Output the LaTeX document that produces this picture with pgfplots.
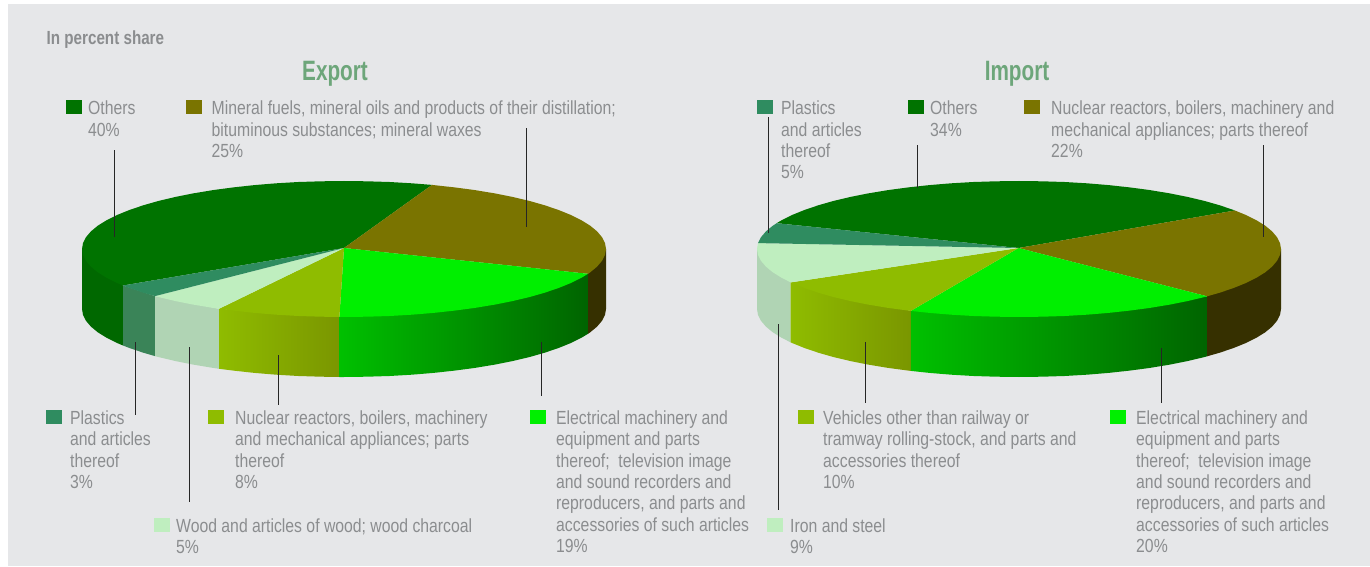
\documentclass[border=0pt]{standalone}
\usepackage{fontspec}
\setmainfont{Liberation Sans}[FakeStretch=0.83]
\newfontfamily\headfont{Liberation Sans}[FakeStretch=0.80]
\newfontfamily\titlefont{Liberation Sans}[FakeStretch=0.74]
\usepackage{pgfplots}
\pgfplotsset{compat=1.18}

\definecolor{bg}{HTML}{E6E7E9}
\definecolor{txt}{HTML}{8B8D8F}
\definecolor{ttl}{HTML}{6DA67A}
\definecolor{cOthers}{HTML}{007300}
\definecolor{cOthersS}{HTML}{006800}
\definecolor{cMineral}{HTML}{7A7400}
\definecolor{cMineralS}{HTML}{363000}
\definecolor{cElec}{HTML}{00EF00}
\definecolor{cElecL}{HTML}{00C000}
\definecolor{cElecR}{HTML}{006400}
\definecolor{cNuc}{HTML}{8FBC00}
\definecolor{cNucR}{HTML}{7A9600}
\definecolor{cWood}{HTML}{BFEEBF}
\definecolor{cWoodS}{HTML}{B0D4B4}
\definecolor{cPlast}{HTML}{2F8C60}
\definecolor{cPlastS}{HTML}{3A8458}

\pgfplotsset{
  page/.style={
    at={(0,0)}, anchor=south west, scale only axis,
    width=1370pt, height=566pt, axis lines=none,
  },
  pie/.style={page, ymin=-317, ymax=249},
}
\tikzset{
  seg/.style={draw=none, fill=#1},
  side/.style n args={2}{draw=none, left color=#1, right color=#2},
  lead/.style={black!85, line width=0.8pt},
  lab/.style={anchor=north west, inner sep=0pt, align=left, text=txt,
    font=\fontsize{19}{21.4}\selectfont},
}
\newcommand\fl{\rule{0pt}{14pt}}

\begin{document}
\begin{tikzpicture}

% background
\begin{axis}[page, xmin=0, xmax=1370, ymin=0, ymax=566, y dir=reverse]
\addplot[seg=white] coordinates {(0,0)(1370,0)(1370,566)(0,566)} --cycle;
\addplot[seg=bg] coordinates {(8,4)(1370,4)(1370,566)(8,566)} --cycle;
\end{axis}

% Export pie, centre at 344,249
\begin{axis}[pie, xmin=-344, xmax=1026]
% rim
\addplot[seg=cOthersS] coordinates {(-262,0)(-262,-60)(-261,-65.9)(-258,-71.8)(-253.1,-77.6)(-246.2,-83.3)(-237.5,-88.7)(-226.9,-94)(-221,-96.5)(-221,-36.5)} --cycle;
\addplot[seg=cPlastS] coordinates {(-221,-36.5)(-221,-96.5)(-214.6,-99)(-200.7,-103.7)(-189,-107.1)(-189,-47.1)} --cycle;
\addplot[seg=cWoodS] coordinates {(-189,-47.1)(-189,-107.1)(-185.3,-108.1)(-168.4,-112.1)(-150.3,-115.7)(-131,-118.9)(-125,-119.8)(-125,-59.8)} --cycle;
\addplot[side={cNuc}{cNucR}] coordinates {(-125,-59.8)(-125,-119.8)(-110.7,-121.6)(-89.6,-123.9)(-67.8,-125.7)(-45.5,-127)(-22.8,-127.7)(-4.6,-128)(-4.6,-68)} --cycle;
\addplot[side={cElecL}{cElecR}] coordinates {(-4.6,-68)(-4.6,-128)(0,-128)(22.8,-127.7)(45.5,-127)(67.8,-125.7)(89.6,-123.9)(110.7,-121.6)(131,-118.9)(150.3,-115.7)(168.4,-112.1)(185.3,-108.1)(200.7,-103.7)(214.6,-99)(226.9,-94)(237.5,-88.7)(244,-84.8)(244,-24.8)} --cycle;
\addplot[seg=cMineralS] coordinates {(244,-24.8)(244,-84.8)(246.2,-83.3)(253.1,-77.6)(258,-71.8)(261,-65.9)(262,-60)(262,0)} --cycle;
% top
\addplot[seg=cOthers] coordinates {(0,1)(88,64.1)(67.8,65.7)(45.5,67)(22.8,67.7)(0,68)(-22.8,67.7)(-45.5,67)(-67.8,65.7)(-89.6,63.9)(-110.7,61.6)(-131,58.9)(-150.3,55.7)(-168.4,52.1)(-185.3,48.1)(-200.7,43.7)(-214.6,39)(-226.9,34)(-237.5,28.7)(-246.2,23.3)(-253.1,17.6)(-258,11.8)(-261,5.9)(-262,0)(-261,-5.9)(-258,-11.8)(-253.1,-17.6)(-246.2,-23.3)(-237.5,-28.7)(-226.9,-34)(-221,-36.5)} --cycle;
\addplot[seg=cMineral] coordinates {(0,1)(244,-24.8)(246.2,-23.3)(253.1,-17.6)(258,-11.8)(261,-5.9)(262,0)(261,5.9)(258,11.8)(253.1,17.6)(246.2,23.3)(237.5,28.7)(226.9,34)(214.6,39)(200.7,43.7)(185.3,48.1)(168.4,52.1)(150.3,55.7)(131,58.9)(110.7,61.6)(89.6,63.9)(88,64.1)} --cycle;
\addplot[seg=cElec] coordinates {(0,1)(-4.6,-68)(0,-68)(22.8,-67.7)(45.5,-67)(67.8,-65.7)(89.6,-63.9)(110.7,-61.6)(131,-58.9)(150.3,-55.7)(168.4,-52.1)(185.3,-48.1)(200.7,-43.7)(214.6,-39)(226.9,-34)(237.5,-28.7)(244,-24.8)} --cycle;
\addplot[seg=cNuc] coordinates {(0,1)(-125,-59.8)(-110.7,-61.6)(-89.6,-63.9)(-67.8,-65.7)(-45.5,-67)(-22.8,-67.7)(-4.6,-68)} --cycle;
\addplot[seg=cWood] coordinates {(0,1)(-189,-47.1)(-185.3,-48.1)(-168.4,-52.1)(-150.3,-55.7)(-131,-58.9)(-125,-59.8)} --cycle;
\addplot[seg=cPlast] coordinates {(0,1)(-221,-36.5)(-214.6,-39)(-200.7,-43.7)(-189,-47.1)} --cycle;
\end{axis}

% Import pie, centre at 1019,249
\begin{axis}[pie, xmin=-1019, xmax=351]
% rim
\addplot[seg=cWoodS] coordinates {(-262,0)(-262,-60)(-261,-65.9)(-258,-71.8)(-253.1,-77.6)(-246.2,-83.3)(-237.5,-88.7)(-228.3,-93.4)(-228.3,-33.4)} --cycle;
\addplot[side={cNuc}{cNucR}] coordinates {(-228.3,-33.4)(-228.3,-93.4)(-226.9,-94)(-214.6,-99)(-200.7,-103.7)(-185.3,-108.1)(-168.4,-112.1)(-150.3,-115.7)(-131,-118.9)(-110.7,-121.6)(-108.2,-121.9)(-108.2,-61.9)} --cycle;
\addplot[side={cElecL}{cElecR}] coordinates {(-108.2,-61.9)(-108.2,-121.9)(-89.6,-123.9)(-67.8,-125.7)(-45.5,-127)(-22.8,-127.7)(0,-128)(22.8,-127.7)(45.5,-127)(67.8,-125.7)(89.6,-123.9)(110.7,-121.6)(131,-118.9)(150.3,-115.7)(168.4,-112.1)(185.3,-108.1)(188.1,-107.3)(188.1,-47.3)} --cycle;
\addplot[seg=cMineralS] coordinates {(188.1,-47.3)(188.1,-107.3)(200.7,-103.7)(214.6,-99)(226.9,-94)(237.5,-88.7)(246.2,-83.3)(253.1,-77.6)(258,-71.8)(261,-65.9)(262,-60)(262,0)} --cycle;
% top
\addplot[seg=cOthers] coordinates {(-0.5,1)(215.9,38.5)(214.6,39)(200.7,43.7)(185.3,48.1)(168.4,52.1)(150.3,55.7)(131,58.9)(110.7,61.6)(89.6,63.9)(67.8,65.7)(45.5,67)(22.8,67.7)(0,68)(-22.8,67.7)(-45.5,67)(-67.8,65.7)(-89.6,63.9)(-110.7,61.6)(-131,58.9)(-150.3,55.7)(-168.4,52.1)(-185.3,48.1)(-200.7,43.7)(-214.6,39)(-226.9,34)(-237.5,28.7)(-242.4,25.8)} --cycle;
\addplot[seg=cMineral] coordinates {(-0.5,1)(188.1,-47.3)(200.7,-43.7)(214.6,-39)(226.9,-34)(237.5,-28.7)(246.2,-23.3)(253.1,-17.6)(258,-11.8)(261,-5.9)(262,0)(261,5.9)(258,11.8)(253.1,17.6)(246.2,23.3)(237.5,28.7)(226.9,34)(215.9,38.5)} --cycle;
\addplot[seg=cElec] coordinates {(-0.5,1)(-108.2,-61.9)(-89.6,-63.9)(-67.8,-65.7)(-45.5,-67)(-22.8,-67.7)(0,-68)(22.8,-67.7)(45.5,-67)(67.8,-65.7)(89.6,-63.9)(110.7,-61.6)(131,-58.9)(150.3,-55.7)(168.4,-52.1)(185.3,-48.1)(188.1,-47.3)} --cycle;
\addplot[seg=cNuc] coordinates {(-0.5,1)(-228.3,-33.4)(-226.9,-34)(-214.6,-39)(-200.7,-43.7)(-185.3,-48.1)(-168.4,-52.1)(-150.3,-55.7)(-131,-58.9)(-110.7,-61.6)(-108.2,-61.9)} --cycle;
\addplot[seg=cWood] coordinates {(-0.5,1)(-261,5.9)(-262,0)(-261,-5.9)(-258,-11.8)(-253.1,-17.6)(-246.2,-23.3)(-237.5,-28.7)(-228.3,-33.4)} --cycle;
\addplot[seg=cPlast] coordinates {(-0.5,1)(-242.4,25.8)(-246.2,23.3)(-253.1,17.6)(-258,11.8)(-261,5.9)} --cycle;
\end{axis}

% leaders, swatches and text in picture pixels
\begin{axis}[page, xmin=0, xmax=1370, ymin=0, ymax=566, y dir=reverse]
\addplot[lead] coordinates {(114,150)(114,237)};
\addplot[lead] coordinates {(526,128)(526,227)};
\addplot[lead] coordinates {(541.3,342)(541.3,396)};
\addplot[lead] coordinates {(278,355)(278,405)};
\addplot[lead] coordinates {(189.7,347)(189.7,502)};
\addplot[lead] coordinates {(135.7,342)(135.7,415)};
\addplot[lead] coordinates {(768,117)(768,233)};
\addplot[lead] coordinates {(917,145)(917,188)};
\addplot[lead] coordinates {(1263,145)(1263,237)};
\addplot[lead] coordinates {(1161,348)(1161,403)};
\addplot[lead] coordinates {(865,342)(865,403)};
\addplot[lead] coordinates {(778,324)(778,510)};

\addplot[seg=cOthers] coordinates {(66,100)(82,100)(82,114)(66,114)} --cycle;
\addplot[seg=cMineral] coordinates {(186,100)(202,100)(202,114)(186,114)} --cycle;
\addplot[seg=cPlast] coordinates {(46,410)(62,410)(62,424)(46,424)} --cycle;
\addplot[seg=cNuc] coordinates {(208,410)(224,410)(224,424)(208,424)} --cycle;
\addplot[seg=cWood] coordinates {(154,518)(170,518)(170,532)(154,532)} --cycle;
\addplot[seg=cElec] coordinates {(530,410)(546,410)(546,424)(530,424)} --cycle;
\addplot[seg=cPlast] coordinates {(757,100)(773,100)(773,114)(757,114)} --cycle;
\addplot[seg=cOthers] coordinates {(908,100)(924,100)(924,114)(908,114)} --cycle;
\addplot[seg=cMineral] coordinates {(1024,100)(1040,100)(1040,114)(1024,114)} --cycle;
\addplot[seg=cNuc] coordinates {(798,410)(814,410)(814,424)(798,424)} --cycle;
\addplot[seg=cElec] coordinates {(1110,410)(1126,410)(1126,424)(1110,424)} --cycle;
\addplot[seg=cWood] coordinates {(767,518)(783,518)(783,532)(767,532)} --cycle;

\node[anchor=base west, inner sep=0pt, text=txt, font=\headfont\fontsize{19}{21}\selectfont\bfseries] at (axis cs:46.5,44) {In percent share};
\node[anchor=base, inner sep=0pt, text=ttl, font=\titlefont\fontsize{28}{30}\selectfont\bfseries] at (axis cs:335,80) {Export};
\node[anchor=base, inner sep=0pt, text=ttl, font=\titlefont\fontsize{28}{30}\selectfont\bfseries] at (axis cs:1017,80) {Import};

\node[lab] at (axis cs:88,100.5) {\fl Others\\40\%};
\node[lab] at (axis cs:211.5,100.5) {\fl Mineral fuels, mineral oils and products of their distillation;\\bituminous substances; mineral waxes\\25\%};
\node[lab] at (axis cs:70,410) {\fl Plastics\\and articles\\thereof\\3\%};
\node[lab] at (axis cs:235,410) {\fl Nuclear reactors, boilers, machinery\\and mechanical appliances; parts\\thereof\\8\%};
\node[lab] at (axis cs:176,518) {\fl Wood and articles of wood; wood charcoal\\5\%};
\node[lab] at (axis cs:556,410) {\fl Electrical machinery and\\equipment and parts\\thereof;\ \ television image\\and sound recorders and\\reproducers, and parts and\\accessories of such articles\\19\%};
\node[lab] at (axis cs:781,100.5) {\fl Plastics\\and articles\\thereof\\5\%};
\node[lab] at (axis cs:930,100.5) {\fl Others\\34\%};
\node[lab] at (axis cs:1051,100.5) {\fl Nuclear reactors, boilers, machinery and\\mechanical appliances; parts thereof\\22\%};
\node[lab] at (axis cs:823,410) {\fl Vehicles other than railway or\\tramway rolling-stock, and parts and\\accessories thereof\\10\%};
\node[lab] at (axis cs:1136,410) {\fl Electrical machinery and\\equipment and parts\\thereof;\ \ television image\\and sound recorders and\\reproducers, and parts and\\accessories of such articles\\20\%};
\node[lab] at (axis cs:790,518) {\fl Iron and steel\\9\%};
\end{axis}

\end{tikzpicture}
\end{document}
